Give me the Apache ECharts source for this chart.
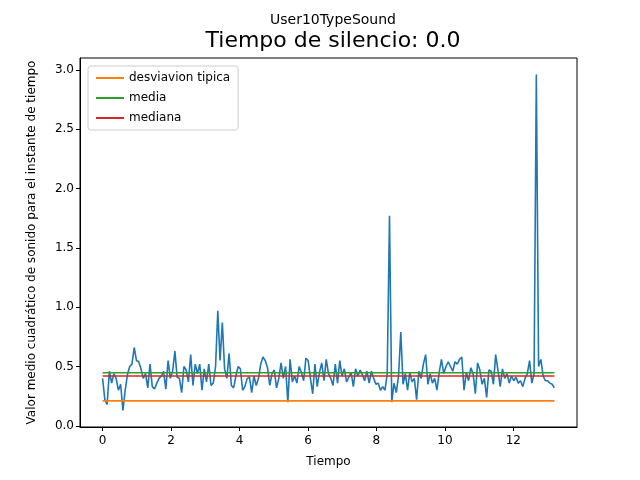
<!DOCTYPE html>
<html><head><meta charset="utf-8">
<script src="https://cdn.jsdelivr.net/npm/echarts@6/dist/echarts.min.js"></script>
<style>html,body{margin:0;padding:0;background:#fff}#c{width:640px;height:480px}</style>
</head><body><div id="c"></div>
<script>
const step = 0.066;
const values = [
  0.40,0.22,0.18,0.46,0.36,0.44,0.40,0.30,0.35,0.13,
  0.30,0.43,0.50,0.52,0.66,0.55,0.54,0.48,0.40,0.44,
  0.32,0.52,0.33,0.31,0.36,0.40,0.42,0.46,0.31,0.55,
  0.40,0.46,0.63,0.41,0.40,0.28,0.50,0.47,0.37,0.60,
  0.34,0.52,0.44,0.52,0.30,0.48,0.37,0.52,0.34,0.36,
  0.50,0.97,0.55,0.87,0.48,0.40,0.61,0.34,0.32,0.42,
  0.50,0.48,0.30,0.33,0.40,0.41,0.28,0.42,0.34,0.40,
  0.52,0.58,0.55,0.49,0.34,0.44,0.47,0.32,0.40,0.53,
  0.40,0.50,0.20,0.56,0.37,0.42,0.36,0.50,0.45,0.38,
  0.57,0.55,0.40,0.27,0.52,0.33,0.45,0.53,0.38,0.56,
  0.44,0.40,0.34,0.52,0.36,0.55,0.42,0.48,0.37,0.41,
  0.45,0.33,0.48,0.42,0.47,0.43,0.38,0.46,0.36,0.46,
  0.40,0.35,0.36,0.30,0.33,0.30,0.44,1.77,0.20,0.36,
  0.28,0.42,0.79,0.35,0.44,0.30,0.45,0.37,0.40,0.22,
  0.46,0.40,0.52,0.60,0.35,0.44,0.36,0.40,0.30,0.45,
  0.56,0.44,0.50,0.54,0.50,0.46,0.54,0.52,0.56,0.58,
  0.30,0.45,0.38,0.49,0.44,0.27,0.53,0.47,0.35,0.40,
  0.24,0.47,0.46,0.35,0.60,0.47,0.33,0.48,0.40,0.44,
  0.36,0.42,0.38,0.41,0.36,0.38,0.33,0.40,0.44,0.55,
  0.36,0.44,2.96,0.50,0.56,0.42,0.38,0.38,0.36,0.35,
  0.32
];
const stdValue = 0.21;
const meanValue = 0.447;
const medianValue = 0.42;
const xTicks = [0, 2, 4, 6, 8, 10, 12];
const yTicks = [0, 0.5, 1, 1.5, 2, 2.5, 3];

const pts = values.map((v, i) => [+(i * step).toFixed(3), v]);
const xEnd = pts[pts.length - 1][0];
const flat = (v) => [[0, v], [xEnd, v]];
const font = 'DejaVu Sans';

const chart = echarts.init(document.getElementById('c'));
chart.setOption({
  animation: false,
  textStyle: { fontFamily: font },
  title: [
    { text: 'User10TypeSound', left: 328, top: 8, textAlign: 'center',
      textStyle: { fontSize: 14, fontWeight: 'normal', color: '#000', fontFamily: font } },
    { text: 'Tiempo de silencio: 0.0', left: 328, top: 25, textAlign: 'center',
      textStyle: { fontSize: 22, fontWeight: 'normal', color: '#000', fontFamily: font } }
  ],
  legend: {
    left: 88, top: 66, orient: 'vertical', itemGap: 8, itemWidth: 28, itemHeight: 2,
    padding: [6, 8], borderColor: '#ccc', borderWidth: 1, borderRadius: 3,
    icon: 'rect', textStyle: { fontSize: 12, color: '#000', fontFamily: font },
    data: ['desviavion tipica', 'media', 'mediana']
  },
  grid: { left: 80, right: 63, top: 58, bottom: 53 },
  xAxis: {
    type: 'value', min: -0.66, max: 13.86, name: 'Tiempo', nameLocation: 'middle', nameGap: 29,
    nameTextStyle: { fontSize: 12, color: '#000' },
    axisLine: { onZero: false, lineStyle: { color: '#000' } },
    axisTick: { customValues: xTicks, length: 4, lineStyle: { color: '#000' } },
    axisLabel: { customValues: xTicks, color: '#000', fontSize: 12 },
    splitLine: { show: false }
  },
  yAxis: {
    type: 'value', min: -0.01, max: 3.10,
    name: 'Valor medio cuadrático de sonido para el instante de tiempo',
    nameLocation: 'middle', nameGap: 42, nameTextStyle: { fontSize: 12, color: '#000' },
    axisLine: { show: true, onZero: false, lineStyle: { color: '#000' } },
    axisTick: { show: true, customValues: yTicks, length: 4, lineStyle: { color: '#000' } },
    axisLabel: { customValues: yTicks, color: '#000', fontSize: 12, margin: 6, formatter: (v) => v.toFixed(1) },
    splitLine: { show: false }
  },
  series: [
    { name: 'señal', type: 'line', data: pts, showSymbol: false, lineStyle: { color: '#1f77b4', width: 1.6 }, z: 3 },
    { name: 'desviavion tipica', type: 'line', data: flat(stdValue), showSymbol: false, color: '#ff7f0e', lineStyle: { width: 1.6 } },
    { name: 'media', type: 'line', data: flat(meanValue), showSymbol: false, color: '#2ca02c', lineStyle: { width: 1.6 } },
    { name: 'mediana', type: 'line', data: flat(medianValue), showSymbol: false, color: '#d62728', lineStyle: { width: 1.6 } }
  ]
});
// top and right frame lines like matplotlib
chart.setOption({
  graphic: [{ type: 'rect', shape: { x: 80, y: 58, width: 497, height: 369 },
    style: { fill: 'none', stroke: '#000', lineWidth: 1 }, silent: true }]
});
</script></body></html>
